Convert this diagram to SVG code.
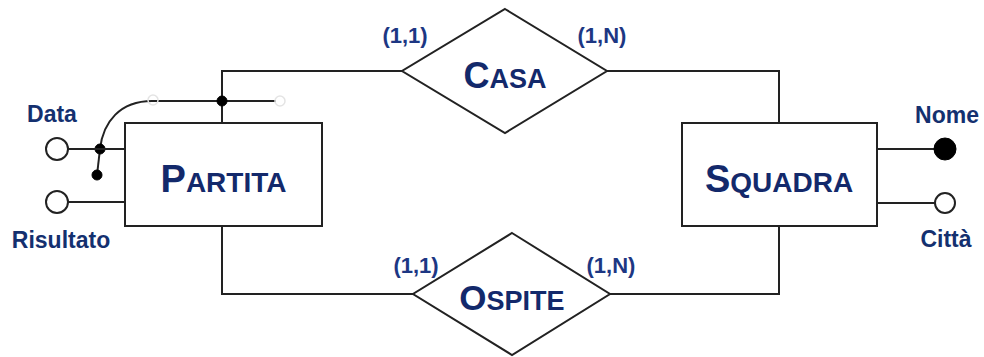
<svg xmlns="http://www.w3.org/2000/svg" width="984" height="357" viewBox="0 0 984 357">
<style>
.ln{fill:none;stroke:#222;stroke-width:2}
.box{fill:#fff;stroke:#222;stroke-width:2}
.big{font-family:"Liberation Sans",Arial,sans-serif;font-weight:bold;fill:#13296b}
.attr{font-family:"Liberation Sans",Arial,sans-serif;font-weight:bold;font-size:23px;fill:#14306f}
.card{font-family:"Liberation Sans",Arial,sans-serif;font-weight:bold;font-size:22px;fill:#1d3783}
.ho{fill:#fff;stroke:#222;stroke-width:2}
.fi{fill:#000;stroke:#000;stroke-width:1}
.faint{fill:none;stroke:#e4e4e4;stroke-width:1.5}
</style>
<rect width="984" height="357" fill="#fff"/>
<g id="connectors">
<polyline class="ln" points="402,71 222,71 222,123"/>
<polyline class="ln" points="607,71 779,71 779,123"/>
<polyline class="ln" points="222,226 222,294 413,294"/>
<polyline class="ln" points="610,294 779,294 779,226"/>
</g>
<g id="identifier">
<path class="ln" d="M100,149 C103,122 120,101 152,101 L276,101"/>
<line class="ln" x1="100" y1="149" x2="97" y2="175"/>
<circle class="fi" cx="222" cy="101" r="5"/>
<circle class="fi" cx="100" cy="149" r="5"/>
<circle class="fi" cx="97" cy="175" r="5"/>
<circle class="faint" cx="153" cy="100" r="5"/>
<circle class="faint" cx="280" cy="101" r="5"/>
</g>
<g id="partita">
<rect class="box" x="125" y="123" width="197" height="103"/>
<text class="big" x="223.5" y="192" text-anchor="middle"><tspan font-size="38">P</tspan><tspan font-size="28">ARTITA</tspan></text>
</g>
<g id="attr-data">
<line class="ln" x1="68" y1="149" x2="125" y2="149"/>
<circle class="ho" cx="57" cy="149" r="11"/>
<text class="attr" x="52" y="122" text-anchor="middle">Data</text>
</g>
<g id="attr-risultato">
<line class="ln" x1="68" y1="202" x2="125" y2="202"/>
<circle class="ho" cx="57" cy="202" r="11"/>
<text class="attr" x="61" y="248" text-anchor="middle">Risultato</text>
</g>
<g id="squadra">
<rect class="box" x="682" y="123" width="195" height="103"/>
<text class="big" x="779" y="192" text-anchor="middle"><tspan font-size="38">S</tspan><tspan font-size="28">QUADRA</tspan></text>
</g>
<g id="attr-nome">
<line class="ln" x1="877" y1="149" x2="934" y2="149"/>
<circle class="fi" cx="945" cy="149" r="11"/>
<text class="attr" x="947" y="123" text-anchor="middle">Nome</text>
</g>
<g id="attr-citta">
<line class="ln" x1="877" y1="203" x2="935" y2="203"/>
<circle class="ho" cx="945" cy="203" r="10"/>
<text class="attr" x="946" y="247" text-anchor="middle">Città</text>
</g>
<g id="casa">
<polygon class="box" points="505,9 607,71 505,133 402,71"/>
<text class="big" x="505" y="88" text-anchor="middle"><tspan font-size="36">C</tspan><tspan font-size="27">ASA</tspan></text>
<text class="card" x="405" y="43" text-anchor="middle">(1,1)</text>
<text class="card" x="602" y="43" text-anchor="middle">(1,N)</text>
</g>
<g id="ospite">
<polygon class="box" points="512,233 610,294 512,355 413,294"/>
<text class="big" x="512" y="310" text-anchor="middle"><tspan font-size="35">O</tspan><tspan font-size="27">SPITE</tspan></text>
<text class="card" x="416" y="273" text-anchor="middle">(1,1)</text>
<text class="card" x="611" y="273" text-anchor="middle">(1,N)</text>
</g>
</svg>
